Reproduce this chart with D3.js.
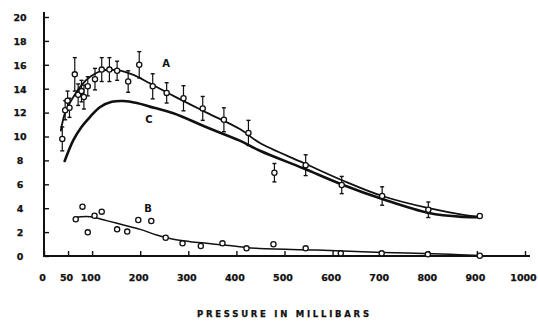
<!DOCTYPE html>
<html>
<head>
<meta charset="utf-8">
<script src="https://cdn.jsdelivr.net/npm/d3@7"></script>
<style>
  body { margin: 0; background: #fff; }
  svg { display: block; }
  .tick-label { font-family: "DejaVu Sans", sans-serif; font-weight: bold; font-size: 9.5px; fill: #111; stroke: #111; stroke-width: 0.25px; }
  .curve-label { font-family: "DejaVu Sans", sans-serif; font-weight: bold; font-size: 10px; fill: #111; }
</style>
</head>
<body>
<svg id="chart"></svg>
<script>
// series A: observed points with error bars
var aPressure = [38, 44, 49, 53, 64, 71, 78, 83, 91, 106, 120, 136, 152, 175, 198, 226, 255, 290, 330, 374, 425, 479, 544, 619, 703, 799, 906];
var aValue    = [9.8, 12.2, 13.0, 12.4, 15.2, 13.5, 13.8, 13.3, 14.2, 14.8, 15.6, 15.6, 15.5, 14.6, 16.0, 14.2, 13.65, 13.2, 12.35, 11.4, 10.3, 6.97, 7.6, 5.94, 5.02, 3.87, 3.35];
var aError    = [1.0, 0.8, 0.8, 0.8, 1.4, 0.9, 0.9, 1.0, 0.8, 0.9, 1.0, 1.0, 0.8, 0.9, 1.1, 1.05, 0.85, 1.05, 1.0, 1.0, 1.05, 0.77, 0.87, 0.72, 0.77, 0.65, 0];

// series B: observed points
var bPressure = [66, 80, 91, 105, 120, 152, 173, 196, 223, 253, 288, 326, 371, 421, 477, 544, 617, 702, 798, 906];
var bValue    = [3.07, 4.13, 1.98, 3.37, 3.71, 2.23, 2.04, 3.01, 2.93, 1.53, 1.06, 0.84, 1.06, 0.64, 0.98, 0.64, 0.22, 0.22, 0.14, 0.02];

// smooth curves
var curveAPressure = [35, 44, 61, 78, 96, 120, 151, 186, 220, 269, 338, 408, 449, 539, 622, 705, 800, 872, 905];
var curveAValue    = [10.5, 12.0, 13.3, 14.3, 15.0, 15.5, 15.55, 15.15, 14.45, 13.4, 12.0, 10.6, 9.45, 7.8, 6.3, 5.0, 4.0, 3.45, 3.3];
var curveCPressure = [43, 61, 78, 96, 116, 141, 165, 193, 220, 269, 338, 407, 449, 539, 622, 705, 800, 872, 905];
var curveCValue    = [7.95, 9.7, 10.8, 11.65, 12.45, 12.9, 12.97, 12.8, 12.5, 11.94, 10.77, 9.65, 8.81, 7.34, 5.94, 4.74, 3.6, 3.27, 3.24];
var curveBPressure = [64, 96, 130, 165, 200, 234, 269, 304, 338, 373, 407, 442, 567, 705, 844, 906];
var curveBValue    = [3.24, 3.29, 2.96, 2.6, 2.23, 1.76, 1.4, 1.2, 1.06, 0.92, 0.78, 0.64, 0.5, 0.3, 0.14, 0.05];

var xTicks = [0, 50, 100, 200, 300, 400, 500, 600, 700, 800, 900, 1000];
var yTicks = [0, 2, 4, 6, 8, 10, 12, 14, 16, 18, 20];

var width = 538, height = 321;
var ink = "#111";

var svg = d3.select("#chart").attr("width", width).attr("height", height);

var x = d3.scaleLinear().domain([0, 1000]).range([44, 525]);
var y = d3.scaleLinear().domain([0, 20]).range([256, 17]);

// axes
var xAxis = d3.axisBottom(x).tickValues(xTicks).tickSize(-4).tickSizeOuter(0).tickFormat(d3.format("d"));
var yAxis = d3.axisLeft(y).tickValues(yTicks).tickSize(-4).tickSizeOuter(0).tickFormat(d3.format("d"));

var gx = svg.append("g").attr("transform", "translate(0," + y(0) + ")").call(xAxis);
gx.select(".domain").remove();
gx.selectAll(".tick line").attr("stroke", ink).attr("stroke-width", 1.4).attr("transform", "translate(0,-1)");
gx.selectAll(".tick text").attr("class", "tick-label").attr("dy", null).attr("y", 25).attr("x", -2);

var gy = svg.append("g").attr("transform", "translate(" + x(0) + ",0)").call(yAxis);
gy.select(".domain").remove();
gy.selectAll(".tick line").attr("stroke", ink).attr("stroke-width", 1.4).attr("transform", "translate(1,0)");
gy.selectAll(".tick text").attr("class", "tick-label").attr("text-anchor", "middle").attr("x", 20 - x(0)).attr("dy", "0.35em");

// axis lines
svg.append("line").attr("x1", x(0) - 1).attr("x2", 530).attr("y1", y(0)).attr("y2", y(0))
  .attr("stroke", ink).attr("stroke-width", 2);
svg.append("line").attr("x1", x(0)).attr("x2", x(0)).attr("y1", y(0) + 1).attr("y2", 12)
  .attr("stroke", ink).attr("stroke-width", 2);

svg.append("text").attr("class", "tick-label")
  .attr("x", 197).attr("y", 317)
  .style("font-size", "8.5px")
  .attr("textLength", 172).attr("lengthAdjust", "spacing")
  .text("PRESSURE IN MILLIBARS");

// curves
var line = d3.line().curve(d3.curveCatmullRom.alpha(0.5))
  .x(function(d) { return x(d[0]); })
  .y(function(d) { return y(d[1]); });

function drawCurve(ps, vs, w) {
  svg.append("path")
    .datum(d3.zip(ps, vs))
    .attr("d", line)
    .attr("fill", "none")
    .attr("stroke", ink)
    .attr("stroke-width", w)
    .attr("stroke-linecap", "round");
}
drawCurve(curveCPressure, curveCValue, 2.6);
drawCurve(curveAPressure, curveAValue, 1.8);
drawCurve(curveBPressure, curveBValue, 1.5);

// error bars for A
var aData = d3.zip(aPressure, aValue, aError);
var bars = svg.append("g").selectAll("g").data(aData.filter(function(d) { return d[2] > 0; }))
  .enter().append("g");
bars.append("line")
  .attr("x1", function(d) { return x(d[0]); }).attr("x2", function(d) { return x(d[0]); })
  .attr("y1", function(d) { return y(d[1] + d[2]); }).attr("y2", function(d) { return y(d[1] - d[2]); })
  .attr("stroke", ink).attr("stroke-width", 1.2);
[1, -1].forEach(function(s) {
  bars.append("line")
    .attr("x1", function(d) { return x(d[0]) - 2; }).attr("x2", function(d) { return x(d[0]) + 2; })
    .attr("y1", function(d) { return y(d[1] + s * d[2]); }).attr("y2", function(d) { return y(d[1] + s * d[2]); })
    .attr("stroke", ink).attr("stroke-width", 1.4);
});

// points
function drawPoints(ps, vs) {
  svg.append("g").selectAll("circle")
    .data(d3.zip(ps, vs))
    .enter().append("circle")
    .attr("cx", function(d) { return x(d[0]); })
    .attr("cy", function(d) { return y(d[1]); })
    .attr("r", 2.6)
    .attr("fill", "#fff")
    .attr("stroke", ink)
    .attr("stroke-width", 1.3);
}
drawPoints(aPressure, aValue);
drawPoints(bPressure, bValue);

// curve labels
svg.append("text").attr("class", "curve-label").attr("x", 166).attr("y", 67).attr("text-anchor", "middle").text("A");
svg.append("text").attr("class", "curve-label").attr("x", 149).attr("y", 123).attr("text-anchor", "middle").text("C");
svg.append("text").attr("class", "curve-label").attr("x", 148).attr("y", 212).attr("text-anchor", "middle").text("B");
</script>
</body>
</html>
